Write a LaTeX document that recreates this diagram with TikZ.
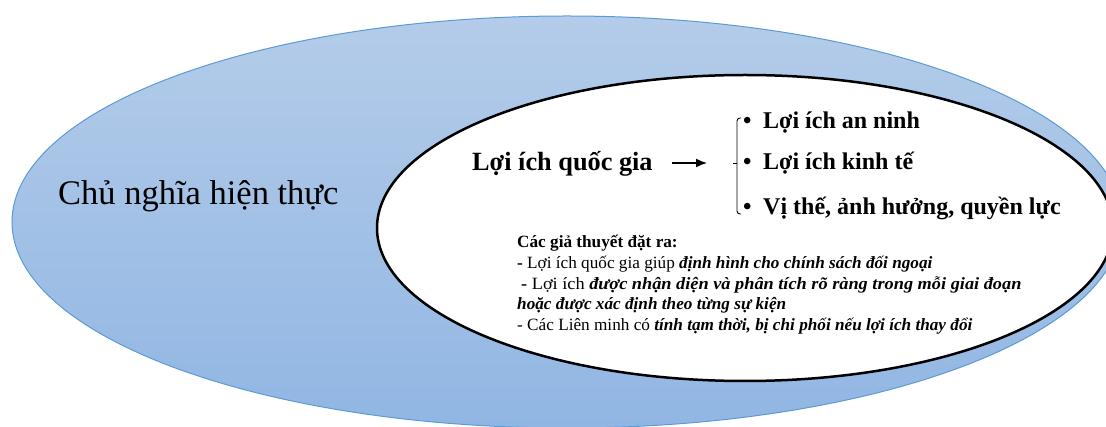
\documentclass[tikz,border=0pt]{standalone}
\usepackage{fontspec}
\setmainfont{Liberation Serif}
\usetikzlibrary{arrows.meta}
\definecolor{blueTop}{RGB}{180,204,233}
\definecolor{blueBot}{RGB}{145,182,227}
\definecolor{blueEdge}{RGB}{91,155,213}
\tikzset{
  bigtext/.style={anchor=base west, inner sep=0pt, font=\fontsize{34.5}{40}\selectfont},
  headtext/.style={anchor=base west, inner sep=0pt, font=\fontsize{26.3}{30}\selectfont\bfseries},
  midtext/.style={anchor=base west, inner sep=0pt, font=\fontsize{24}{30}\selectfont\bfseries},
  smalltext/.style={anchor=base west, inner sep=0pt, font=\fontsize{17.2}{20}\selectfont},
}
\newcommand{\bi}[1]{\textbf{\textit{#1}}}
\begin{document}
\begin{tikzpicture}[x=1pt,y=-1pt]
\useasboundingbox (0,0) rectangle (1106,427);
\clip (0,0) rectangle (1106,427);
% outer ellipse
\shade[top color=blueTop, bottom color=blueBot] (567,222) ellipse [x radius=555, y radius=206];
\draw[blueEdge, line width=1pt] (567,222) ellipse [x radius=555, y radius=206];
% inner ellipse
\filldraw[fill=white, draw=black, line width=2.5pt] (745,228) ellipse [x radius=368, y radius=153];
% texts
\node[bigtext] (realism) at (58,205) {Chủ nghĩa hiện thực};
\node[headtext] (ni) at (472,171) {Lợi ích quốc gia};
\coordinate (arrS) at (672,163);
\coordinate (arrE) at (707,163);
\draw[line width=1.5pt, -{Latex[length=11pt,width=9pt]}] (arrS) -- (arrE);
% bracket
\coordinate (bt) at (741,118);
\coordinate (bb) at (741,214);
\draw[line width=0.9pt, rounded corners=3pt] (bt) -| (737,163) |- (bb);
\draw[line width=0.9pt] (737,163) -- (733,163);
\node[midtext] (b1) at (743,129) {•};
\node[midtext] (b2) at (743,170) {•};
\node[midtext] (b3) at (743,215) {•};
\node[midtext] (i1) at (763,129) {Lợi ích an ninh};
\node[midtext] (i2) at (763,170) {Lợi ích kinh tế};
\node[midtext] (i3) at (763,215) {Vị thế, ảnh hưởng, quyền lực};
% hypotheses
\node[smalltext] (h0) at (517,248) {\textbf{Các giả thuyết đặt ra:}};
\node[smalltext] (h1) at (517,269) {\textbf{-} Lợi ích quốc gia giúp \bi{định hình cho chính sách đối ngoại}};
\node[smalltext] (h2) at (521,290) {\scalebox{1.064}[1]{\textbf{-} Lợi ích \bi{được nhận diện và phân tích rõ ràng trong mỗi giai đoạn}}};
\node[smalltext] (h3) at (517,310) {\bi{hoặc được xác định theo từng sự kiện}};
\node[smalltext] (h4) at (517,331) {- Các Liên minh có \bi{tính tạm thời, bị chi phối nếu lợi ích thay đổi}};
\end{tikzpicture}
\end{document}
